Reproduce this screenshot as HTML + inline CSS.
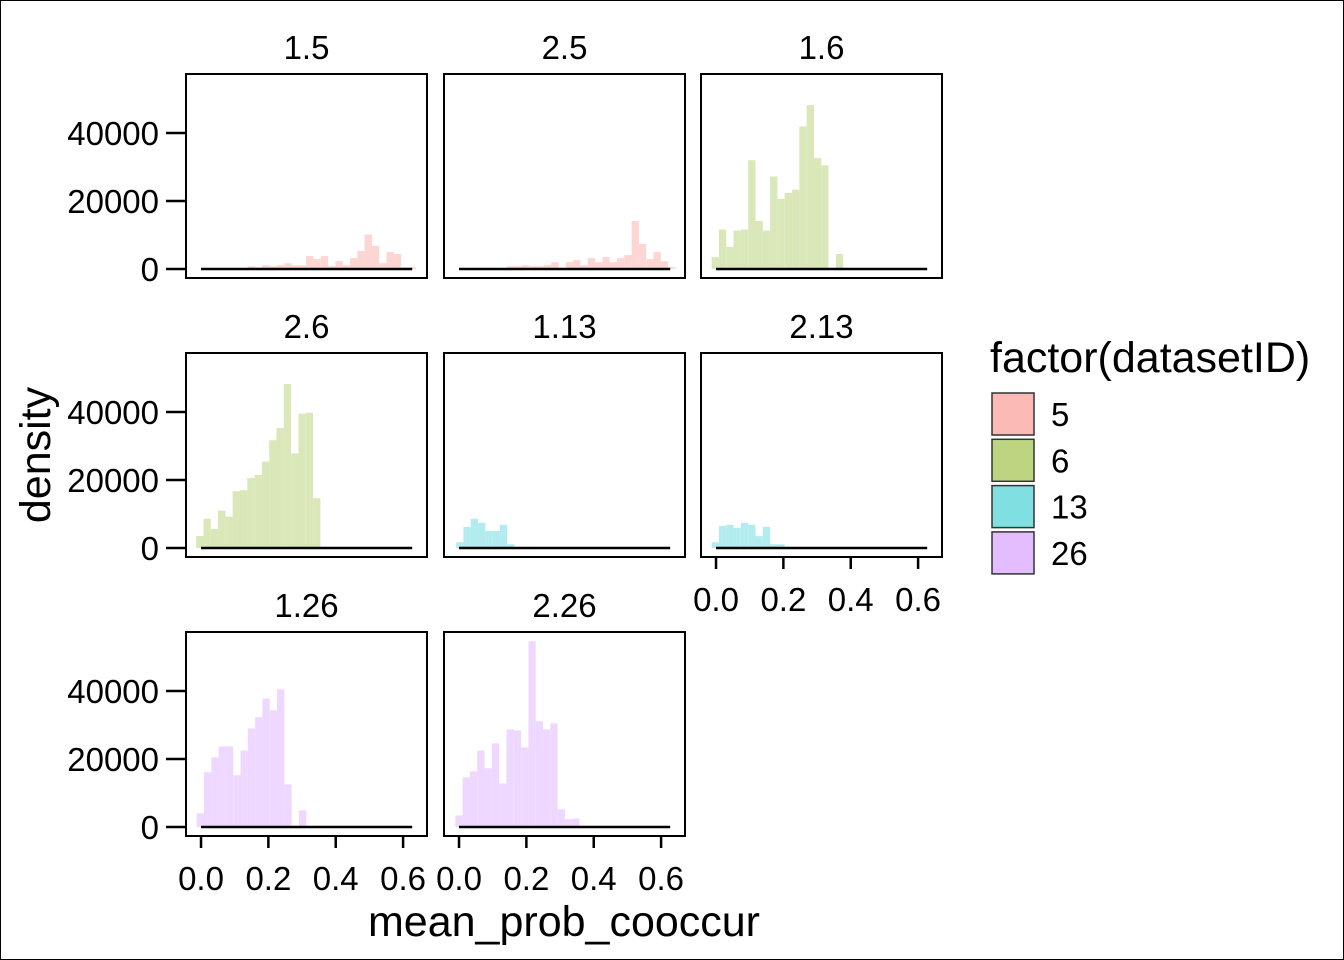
<!DOCTYPE html>
<html><head><meta charset="utf-8"><style>
html,body{margin:0;padding:0;background:#fff}
svg{display:block}
text{font-family:"Liberation Sans",Arial,sans-serif;fill:#000}
</style></head><body>
<svg id="chart" width="1344" height="960" viewBox="0 0 1344 960" xmlns="http://www.w3.org/2000/svg">
<rect x="0.5" y="0.5" width="1343" height="959" fill="#fff" stroke="#000" stroke-width="1"/>
<g id="panels"></g>
<text x="564" y="936" font-size="43" text-anchor="middle">mean_prob_cooccur</text>
<text transform="translate(50,455) rotate(-90)" font-size="43" text-anchor="middle">density</text>
<g>
<text x="990" y="372" font-size="43">factor(datasetID)</text>
<g id="legend-items"></g>
</g>
</svg>
<script>
const panelLabels = ["1.5","2.5","1.6","2.6","1.13","2.13","1.26","2.26"];
const panelGroup = [0,0,1,1,2,2,3,3];
const binStart = [0.030,0.035,-0.013,-0.0145,-0.0087,-0.013,-0.0129,-0.011];
const binWidth = 0.0217;
const h0 = [0.2,0.2,0.2,0.2,0.2,0.8,0.5,1.1,0.8,1.1,1.7,1.1,1.1,3.8,2.9,3.8,0.8,2.3,1.1,3.2,5.3,10.1,6.8,1.7,5,4.4,0.5,0.5];
const h1 = [0.3,0.3,0.3,0.3,0.3,0.8,0.8,1.1,0.8,0.8,1.1,2,0,2,2.6,1.1,3.2,2,3.5,2,3.2,4.1,14.1,7.4,2.9,5,2.3,0.5];
const h2 = [3.5,11.6,6.5,11.3,11.6,32,14.1,11.3,27.2,20.6,22.4,23.3,41.9,48.2,32.6,30.5,0,4.4];
const h3 = [3.5,8.6,5.6,11,9.2,16.7,17,20.6,21.5,25.4,31.7,35.3,48.2,27.8,39.5,39.8,14.6];
const h4 = [1.7,6.2,8.6,7.4,5,5,6.8,1.1];
const h5 = [1.7,6.5,6.8,5.9,7.4,6.8,3.5,6.2,1.1,1.1];
const h6 = [4.0,16.1,20.5,23.7,23.7,15.2,22.5,29,32.3,37.8,34.3,40.5,12.5,0,4.9];
const h7 = [3.4,14.6,16.4,22.5,17.3,24.6,12.8,28.7,28.4,23.4,54.6,31.1,28.7,30.5,5.2,2.3,2.5];
const heights = [h0,h1,h2,h3,h4,h5,h6,h7];
const yTicks = [0,20000,40000];
const yTickLabels = ["0","20000","40000"];
const xTicks = [0,0.2,0.4,0.6];
const xTickLabels = ["0.0","0.2","0.4","0.6"];
const legendLabels = ["5","6","13","26"];
const fills = ["#fdd5d3","#d9e7b9","#b3ecee","#eed8ff"];
const keyFills = ["#fbbab6","#bdd580","#80dfe1","#e3bdff"];

const NS="http://www.w3.org/2000/svg";
const colX=[186,444,701], rowY=[74,353,632], PW=241, PH=204;
const xMin=-0.0446, xMax=0.671, yMin=-2650, yMax=57350;
function mk(t,a){const e=document.createElementNS(NS,t);for(const k in a)e.setAttribute(k,a[k]);return e;}
const root=document.getElementById('panels');
panelLabels.forEach((lab,i)=>{
  const c=i%3,r=Math.floor(i/3),px=colX[c],py=rowY[r];
  const sx=v=>px+(v-xMin)/(xMax-xMin)*PW;
  const sy=v=>py+PH-(v-yMin)/(yMax-yMin)*PH;
  const g=mk('g',{});
  
  
  root.appendChild(g);
  const st=mk('text',{x:px+PW/2,y:py-15,'font-size':33,'text-anchor':'middle'});
  
  
  st.textContent=lab;g.appendChild(st);
  heights[i].forEach((h,j)=>{
    if(h<=0)return;
    const x0=binStart[i]+j*binWidth;
    const b=mk('rect',{x:sx(x0),y:sy(h*1000),width:sx(x0+binWidth)-sx(x0),height:sy(0)-sy(h*1000),fill:fills[panelGroup[i]]});
    
    
    g.appendChild(b);
  });
  const hl=mk('line',{x1:sx(0),x2:sx(0.627),y1:sy(0),y2:sy(0),stroke:'#000','stroke-width':2.5});
  
  
  g.appendChild(hl);
  const fr=mk('rect',{x:px,y:py,width:PW,height:PH,fill:'none',stroke:'#000','stroke-width':2});
  
  
  g.appendChild(fr);
  if(c===0){
    yTicks.forEach((t,k)=>{
      const y=sy(t);
      const tl=mk('line',{x1:px-20,x2:px,y1:y,y2:y,stroke:'#000','stroke-width':2.5});
      
      
      g.appendChild(tl);
      const tt=mk('text',{x:px-27,y:y+12,'font-size':33,'text-anchor':'end'});
      
      
      tt.textContent=yTickLabels[k];g.appendChild(tt);
    });
  }
  if(i>=5){
    xTicks.forEach((t,k)=>{
      const x=sx(t);
      const tl=mk('line',{x1:x,x2:x,y1:py+PH,y2:py+PH+12,stroke:'#000','stroke-width':2.5});
      
      
      g.appendChild(tl);
      const tt=mk('text',{x:x,y:py+PH+54,'font-size':33,'text-anchor':'middle'});
      
      
      tt.textContent=xTickLabels[k];g.appendChild(tt);
    });
  }
});
const lg=document.getElementById('legend-items');
legendLabels.forEach((l,k)=>{
  const y=393+k*46.3;
  const r=mk('rect',{x:992,y:y,width:42,height:42,fill:keyFills[k],stroke:'#333','stroke-width':1.5});
  
  
  lg.appendChild(r);
  const t=mk('text',{x:1051,y:y+33,'font-size':33});
  
  
  t.textContent=l;lg.appendChild(t);
});
</script>
</body></html>
